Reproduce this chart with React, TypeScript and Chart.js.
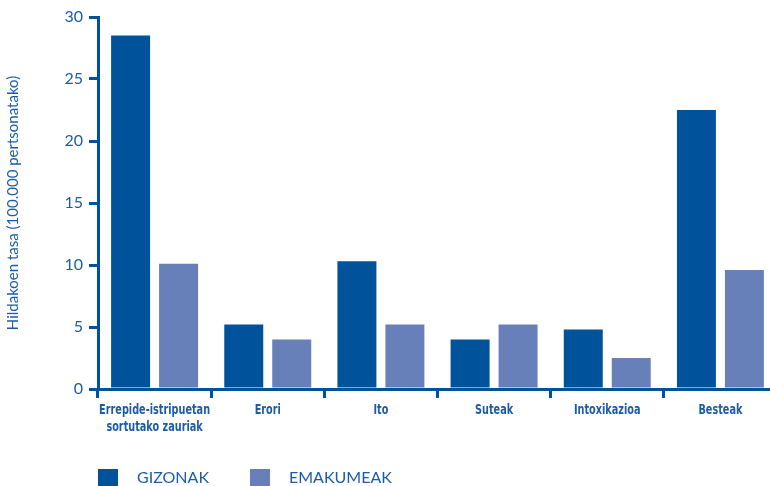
import React, { useEffect, useRef } from "react";
import { Chart, registerables } from "chart.js";

Chart.register(...registerables);

const categories: (string | string[])[] = [
  ["Errepide-istripuetan", "sortutako zauriak"],
  "Erori",
  "Ito",
  "Suteak",
  "Intoxikazioa",
  "Besteak",
];
const gizonak = [28.5, 5.2, 10.3, 4.0, 4.8, 22.5];
const emakumeak = [10.1, 4.0, 5.2, 5.2, 2.5, 9.6];
const seriesLabels = ["GIZONAK", "EMAKUMEAK"];
const yTitle = "Hildakoen tasa (100.000 pertsonatako)";

const DARK = "#00529b";
const LIGHT = "#6780ba";
const TEXT = "#1c5ca6";

const legendPlugin = {
  id: "customLegend",
  afterDraw(chart: any) {
    const ctx = chart.ctx;
    const items = chart.data.datasets;
    const xs = [98, 250];
    ctx.save();
    ctx.font = "16px Lato";
    ctx.textBaseline = "alphabetic";
    ctx.textAlign = "left";
    items.forEach((ds: any, i: number) => {
      ctx.fillStyle = ds.backgroundColor;
      ctx.fillRect(xs[i], 469, 20, 20);
      ctx.fillStyle = TEXT;
      ctx.fillText(ds.label, xs[i] + 39, 483);
    });
    ctx.restore();
  },
};

// Draws the category labels in a condensed bold face (horizontally compressed).
const condensedLabels = {
  id: "condensedLabels",
  afterDraw(chart: any) {
    const ctx = chart.ctx;
    const xs = chart.scales.x;
    const labels = chart.data.labels as (string | string[])[];
    ctx.save();
    ctx.font = "bold 14px 'DejaVu Sans Condensed', 'DejaVu Sans', sans-serif";
    ctx.fillStyle = TEXT;
    ctx.textAlign = "center";
    ctx.textBaseline = "alphabetic";
    labels.forEach((lab, i) => {
      const lines = Array.isArray(lab) ? lab : [lab];
      const x = xs.getPixelForTick(i);
      lines.forEach((line, j) => {
        ctx.save();
        ctx.translate(x, 414 + j * 16.5);
        ctx.scale(0.77, 1);
        ctx.fillText(line, 0, 0);
        ctx.restore();
      });
    });
    ctx.restore();
  },
};

export default function App() {
  const ref = useRef<HTMLCanvasElement>(null);
  useEffect(() => {
    document.body.style.margin = "0";
    const chart = new Chart(ref.current!, {
      type: "bar",
      data: {
        labels: categories,
        datasets: [
          {
            label: seriesLabels[0],
            data: gizonak,
            backgroundColor: DARK,
            categoryPercentage: 0.848,
            barPercentage: 0.8125,
          },
          {
            label: seriesLabels[1],
            data: emakumeak,
            backgroundColor: LIGHT,
            categoryPercentage: 0.848,
            barPercentage: 0.8125,
          },
        ],
      },
      plugins: [legendPlugin, condensedLabels],
      options: {
        animation: false,
        responsive: true,
        maintainAspectRatio: false,
        layout: { padding: { top: 17, right: 0, bottom: 0, left: 0 } },
        plugins: {
          legend: { display: false },
          tooltip: { enabled: false },
        },
        scales: {
          x: {
            afterFit(scale: any) {
              scale.height = 97;
            },
            border: { color: DARK, width: 3 },
            grid: {
              offset: true,
              drawOnChartArea: false,
              color: DARK,
              lineWidth: 3,
              tickLength: 9,
            },
            ticks: {
              display: false,
              autoSkip: false,
              maxRotation: 0,
            },
          },
          y: {
            min: 0,
            max: 30,
            afterFit(scale: any) {
              scale.width = 98;
            },
            border: { color: DARK, width: 3 },
            grid: {
              drawOnChartArea: false,
              color: DARK,
              lineWidth: 3,
              tickLength: 9,
            },
            ticks: {
              stepSize: 5,
              color: TEXT,
              padding: 6,
              font: { family: "Lato, sans-serif", size: 16 },
            },
            title: {
              display: true,
              text: yTitle,
              color: TEXT,
              padding: { top: 4, bottom: 0 },
              font: { family: "Lato, sans-serif", size: 15 },
            },
          },
        },
      },
    });
    return () => chart.destroy();
  }, []);
  return (
    <div style={{ position: "absolute", left: 0, top: 0, width: 770, height: 486, overflow: "hidden" }}>
      <div style={{ position: "relative", width: 777, height: 486 }}>
        <canvas ref={ref} />
      </div>
    </div>
  );
}
